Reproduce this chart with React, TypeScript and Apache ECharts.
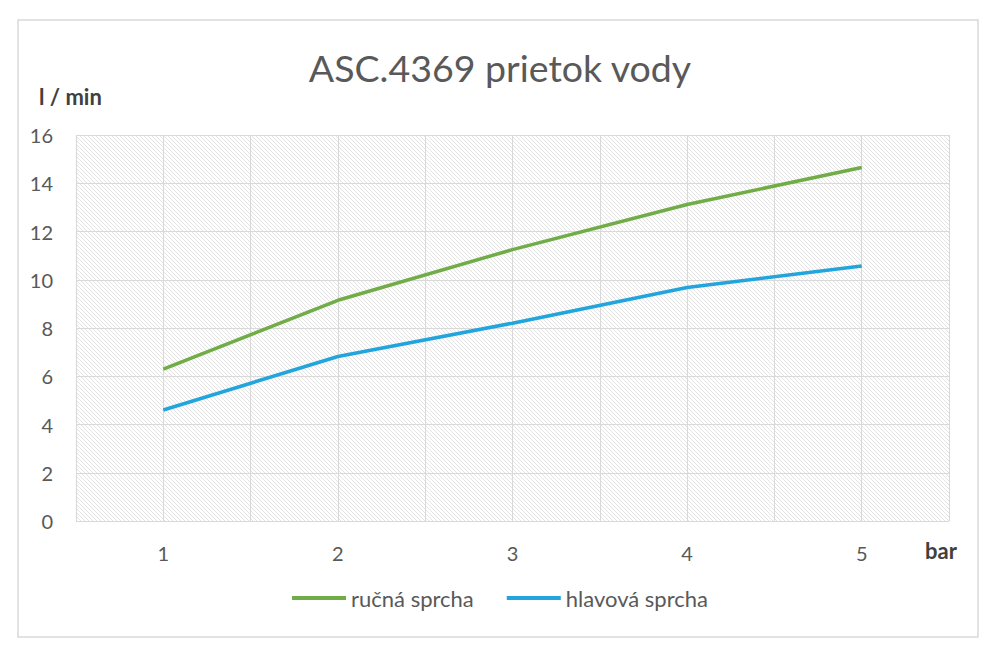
import { useEffect, useRef } from 'react';
import * as echarts from 'echarts';

const pressures = [1, 2, 3, 4, 5];
const handShower = [6.3, 9.15, 11.25, 13.12, 14.65];
const headShower = [4.6, 6.82, 8.2, 9.68, 10.57];
const seriesNames = ['ručná sprcha', 'hlavová sprcha'];

function hatch(): string {
  const c = document.createElement('canvas');
  c.width = 8;
  c.height = 8;
  const ctx = c.getContext('2d')!;
  ctx.fillStyle = '#ffffff';
  ctx.fillRect(0, 0, 8, 8);
  ctx.fillStyle = '#e3e3e3';
  for (let i = 0; i < 8; i++) {
    ctx.fillRect(i, i, 1, 1);
    ctx.fillRect(i, (i + 4) % 8, 1, 1);
  }
  return c.toDataURL();
}

export default function App() {
  const ref = useRef<HTMLDivElement>(null);

  useEffect(() => {
    if (!ref.current) return;
    document.body.style.margin = '0';
    const chart = echarts.init(ref.current, null, { renderer: 'svg' });
    const font = 'Lato, "Open Sans", sans-serif';

    chart.setOption({
      animation: false,
      textStyle: { fontFamily: font },
      title: {
        text: 'ASC.4369 prietok vody',
        left: 'center',
        top: 43,
        textStyle: { color: '#595959', fontSize: 37.5, fontWeight: 'normal', fontFamily: font },
      },
      legend: {
        bottom: 44,
        left: 'center',
        icon: 'rect',
        itemWidth: 54,
        itemHeight: 4,
        itemGap: 33,
        textStyle: { color: '#595959', fontSize: 22, fontFamily: font },
        data: seriesNames,
      },
      grid: { left: 76, top: 135, right: 51, bottom: 137, show: true, borderWidth: 0, backgroundColor: { image: hatch(), repeat: 'repeat' } },
      xAxis: {
        type: 'value',
        min: 0.5,
        max: 5.5,
        interval: 0.5,
        axisLine: { show: false },
        axisTick: { show: false },
        axisLabel: {
          color: '#595959',
          fontSize: 20,
          margin: 22,
          formatter: (v: number) => (Number.isInteger(v) ? String(v) : ''),
          showMinLabel: false,
          showMaxLabel: false,
        },
        splitLine: { show: true, lineStyle: { color: '#d9d9d9', width: 1 } },
      },
      yAxis: {
        type: 'value',
        min: 0,
        max: 16,
        interval: 2,
        axisLine: { show: false },
        axisTick: { show: false },
        axisLabel: { color: '#595959', fontSize: 20, margin: 23 },
        splitLine: { lineStyle: { color: '#d9d9d9', width: 1 } },
      },
      graphic: [
        {
          type: 'rect',
          shape: { x: 18, y: 20, width: 960, height: 617 },
          style: { fill: 'none', stroke: '#d9d9d9', lineWidth: 1.5 },
          silent: true,
        },
        {
          type: 'text',
          left: 39,
          top: 85,
          style: { text: 'l / min', fill: '#404040', fontSize: 22, fontWeight: 'bold', fontFamily: font },
        },
        {
          type: 'text',
          left: 925,
          top: 539,
          style: { text: 'bar', fill: '#404040', fontSize: 22, fontWeight: 'bold', fontFamily: font },
        },
      ],
      series: [
        {
          name: seriesNames[0],
          type: 'line',
          data: pressures.map((p, i) => [p, handShower[i]]),
          showSymbol: false,
          lineStyle: { color: '#70ad47', width: 3.5 },
          itemStyle: { color: '#70ad47' },
        },
        {
          name: seriesNames[1],
          type: 'line',
          data: pressures.map((p, i) => [p, headShower[i]]),
          showSymbol: false,
          lineStyle: { color: '#21a5dc', width: 3.5 },
          itemStyle: { color: '#21a5dc' },
        },
      ],
    });

    return () => chart.dispose();
  }, []);

  return <div ref={ref} style={{ width: 1000, height: 658 }} />;
}
